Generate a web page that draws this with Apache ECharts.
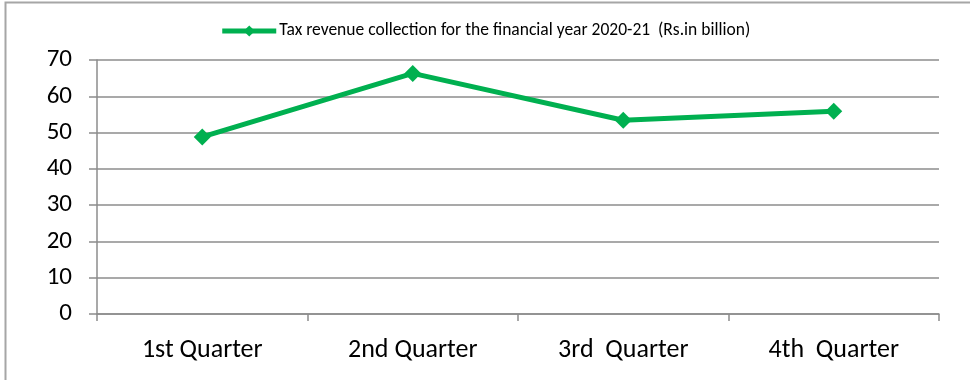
<!DOCTYPE html>
<html>
<head>
<meta charset="utf-8">
<script src="https://cdn.jsdelivr.net/npm/echarts@6/dist/echarts.min.js"></script>
<style>
  html, body { margin: 0; padding: 0; background: #fff; }
  #chart { width: 970px; height: 380px; }
</style>
</head>
<body>
<div id="chart"></div>
<script>
// Quarterly tax revenue, financial year 2020-21 (Rs. in billion)
const quarters = ['1st Quarter', '2nd Quarter', '3rd  Quarter', '4th  Quarter'];
const revenue = [48.8, 66.3, 53.4, 55.9];
const seriesName = 'Tax revenue collection for the financial year 2020-21  (Rs.in billion)';
const yMin = 0, yMax = 70, yStep = 10;

const FONT = "Carlito, 'Liberation Sans Narrow', 'Liberation Sans', sans-serif";
const GRID_GRAY = '#8c8c8c';
const GREEN = '#00B050';

const chart = echarts.init(document.getElementById('chart'), null, { renderer: 'canvas' });
chart.setOption({
  animation: false,
  backgroundColor: '#fff',
  graphic: [{
    type: 'polyline',
    shape: { points: [[5.5, 380], [5.5, 2.5], [970, 2.5]] },
    style: { stroke: '#a6a6a6', lineWidth: 2, fill: null },
    silent: true
  }],
  legend: {
    top: 17,
    left: 'center',
    itemWidth: 54,
    itemHeight: 14,
    itemGap: 4,
    lineStyle: { width: 5 },
    textStyle: { fontFamily: FONT, fontSize: 17.5, color: '#000', padding: [0, 0, 0, -2] },
    data: [seriesName]
  },
  grid: { left: 97, right: 31, top: 60, bottom: 66, containLabel: false },
  xAxis: {
    type: 'category',
    data: quarters,
    boundaryGap: true,
    axisLine: { lineStyle: { color: GRID_GRAY, width: 1.5 } },
    axisTick: { show: true, length: 7, interval: 0, lineStyle: { color: GRID_GRAY, width: 1.5 } },
    axisLabel: { fontFamily: FONT, fontSize: 26, color: '#000', margin: 23, interval: 0 },
    splitLine: { show: false }
  },
  yAxis: {
    type: 'value',
    min: yMin, max: yMax, interval: yStep,
    axisLine: { show: true, lineStyle: { color: GRID_GRAY, width: 1.5 } },
    axisTick: { show: true, length: 8, lineStyle: { color: GRID_GRAY, width: 1.5 } },
    axisLabel: { fontFamily: FONT, fontSize: 25, color: '#000', margin: 25 },
    splitLine: { show: true, lineStyle: { color: GRID_GRAY, width: 1.5 } }
  },
  series: [{
    name: seriesName,
    type: 'line',
    data: revenue,
    symbol: 'diamond',
    symbolSize: 17,
    itemStyle: { color: GREEN },
    lineStyle: { color: GREEN, width: 5 }
  }]
});
</script>
</body>
</html>
